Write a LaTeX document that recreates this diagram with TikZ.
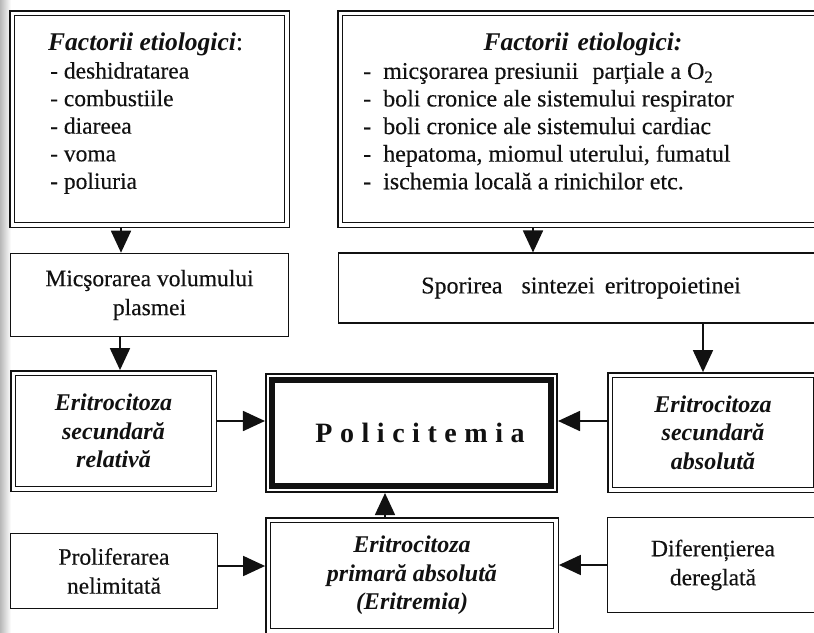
\documentclass[tikz,border=0pt]{standalone}
\usepackage{fontspec}
\setmainfont{Liberation Serif}[UprightFeatures={FakeBold=0.35}]
\newfontfamily\spacedfont[LetterSpace=27]{Liberation Serif}
\usetikzlibrary{arrows.meta,calc}
\definecolor{ink}{HTML}{111111}
\tikzset{
  boxbase/.style={draw=ink, line width=1.6pt, inner sep=0pt, align=center, text=ink},
  plainbox/.style={boxbase},
  dblbox/.style={boxbase, double, double distance=3.4pt, line width=1.4pt, outer sep=3.1pt},
  arr/.style={draw=ink, line width=1.8pt, -{Triangle[length=22pt,width=20pt]}},
  bodyfont/.style={font=\fontsize{23.5}{29}\selectfont},
  bifont/.style={font=\fontsize{24}{28.5}\selectfont\bfseries\itshape},
  headfont/.style={font=\fontsize{25.5}{28}\selectfont, text=ink, inner sep=0pt},
  listfont/.style={font=\fontsize{23.5}{27.6}\selectfont, text=ink, inner sep=0pt, align=left},
}
\begin{document}
\begin{tikzpicture}[x=1pt,y=-1pt]
\useasboundingbox (0,0) rectangle (814,632);
\clip (0,0) rectangle (814,632);
\fill[white] (0,0) rectangle (814,632);
% shadow of the page edge
\shade[left color=black!28, right color=white] (0,0) rectangle (11,632);

% etiological factors, left
\node[dblbox, minimum width=274.6pt, minimum height=211.6pt] (etioA) at (149.5,119) {};
\node[headfont, anchor=base west] (etioAhead) at (48,50) {{\bfseries\itshape Factorii etiologici}:};
\node[listfont, anchor=north west] (etioAlist) at (50,62)
  {- deshidratarea\\- combustiile\\- diareea\\- voma\\- poliuria};

% etiological factors, right
\node[dblbox, minimum width=485.6pt, minimum height=211.6pt] (etioB) at (583,119) {};
\node[headfont, anchor=base] (etioBhead) at (583,50) {\bfseries\itshape Factorii\hspace{9pt}etiologici:};
\node[listfont, font=\fontsize{24}{27.6}\selectfont, anchor=north west] (etioBlist) at (363,62)
  {-\hspace{12pt}micşorarea presiunii\hspace{14pt}parțiale a O\textsubscript{2}\\
   -\hspace{12pt}boli cronice ale sistemului respirator\\
   -\hspace{12pt}boli cronice ale sistemului cardiac\\
   -\hspace{12pt}hepatoma, miomul uterului, fumatul\\
   -\hspace{12pt}ischemia locală a rinichilor etc.};

% intermediate mechanisms
\node[plainbox, bodyfont, minimum width=278pt, minimum height=83pt] (volum) at (149.5,295)
  {Micşorarea volumului\\plasmei};
\node[plainbox, font=\fontsize{24}{29}\selectfont, minimum width=485pt, minimum height=69.5pt] (epo) at (581,288)
  {Sporirea\hspace{19pt}sintezei\hspace{10pt}eritropoietinei};

% forms of erythrocytosis
\node[dblbox, bifont, minimum width=200.6pt, minimum height=115.6pt] (relativ) at (113.5,431)
  {Eritrocitoza\\secundară\\relativă};
\node[dblbox, bifont, minimum width=205.6pt, minimum height=114.6pt] (absol) at (713,432.5)
  {Eritrocitoza\\secundară\\absolută};
\node[dblbox, bifont, minimum width=287.6pt, minimum height=110.6pt] (primar) at (412,575.5)
  {Eritrocitoza\\primară absolută\\(Eritremia)};

% central node with heavy inner frame
\node[boxbase, minimum width=291.5pt, minimum height=118.5pt,
      font=\fontsize{28}{30}\selectfont\bfseries] (polic) at (411.5,433)
  {\hspace*{17pt}\spacedfont\bfseries Policitemia};
\draw[ink, line width=6pt] ($(polic.north west)+(7,7)$) rectangle ($(polic.south east)+(-7,-7)$);

% causes of primary erythrocytosis
\node[plainbox, bodyfont, minimum width=207pt, minimum height=75pt] (prolif) at (114,571)
  {Proliferarea\\nelimitată};
\node[plainbox, bodyfont, minimum width=211pt, minimum height=95pt] (difer) at (713,565)
  {Diferențierea\\dereglată};

% connectors
\draw[arr] ([xshift=-28.5pt]etioA.south) -- ([xshift=-28.5pt]etioA.south |- volum.north);
\draw[arr] ([xshift=-29.5pt]volum.south) -- ([xshift=-29.5pt]volum.south |- relativ.north);
\draw[arr] ([xshift=-50pt]etioB.south) -- ([xshift=-50pt]etioB.south |- epo.north);
\draw[arr] ([xshift=122pt]epo.south) -- ([xshift=122pt]epo.south |- absol.north);
\draw[arr] ([yshift=10pt]relativ.east) -- ([yshift=10pt]relativ.east -| polic.west);
\draw[arr] ([yshift=11.5pt]absol.west) -- ([yshift=11.5pt]absol.west -| polic.east);
\draw[arr] ([yshift=5pt]prolif.east) -- ([yshift=5pt]prolif.east -| primar.west);
\draw[arr] (difer.west) -- (difer.west -| primar.east);
\draw[arr] ([xshift=-27pt]primar.north) -- ([xshift=-27pt]primar.north |- polic.south);
\end{tikzpicture}
\end{document}
